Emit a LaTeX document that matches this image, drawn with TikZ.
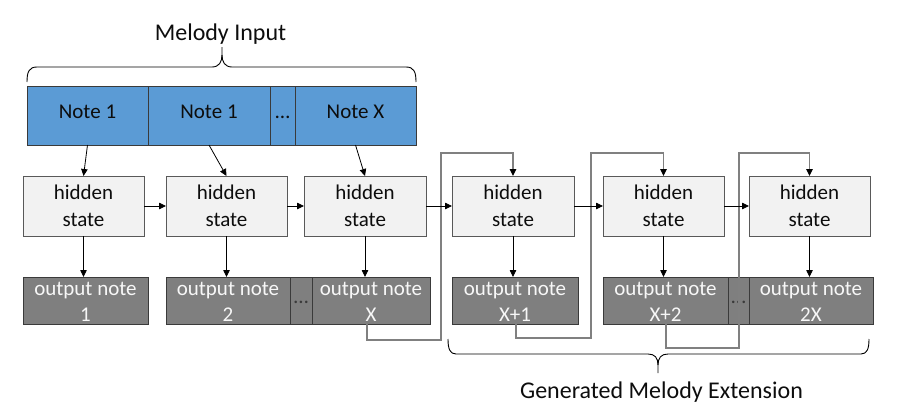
\documentclass[tikz,border=0pt]{standalone}
\usepackage{fontspec}
\setmainfont{Carlito}
\usetikzlibrary{arrows.meta,calc}
\definecolor{blueN}{HTML}{5B9BD5}
\definecolor{hidF}{HTML}{F2F2F2}
\definecolor{outF}{HTML}{7F7F7F}
\definecolor{edgeD}{HTML}{3A3A3A}
\definecolor{edgeH}{HTML}{595959}
\definecolor{fbc}{HTML}{808080}
\definecolor{txtD}{HTML}{0D0D0D}
\definecolor{txtL}{HTML}{F7F7F7}
\begin{document}
\begin{tikzpicture}[x=1pt,y=-1pt,
  box/.style={rectangle, draw=edgeD, line width=0.9pt, inner sep=0pt, outer sep=0pt},
  notebox/.style={box, fill=blueN, minimum height=59pt, font=\fontsize{21}{25}\selectfont, text=txtD, text height=0.65em, text depth=0pt},
  hidbox/.style={box, draw=edgeH, fill=hidF, minimum height=60pt},
  outbox/.style={box, fill=outF, minimum height=47pt, font=\fontsize{21}{25}\selectfont, text=edgeD, text height=0.65em, text depth=0pt},
  hlab/.style={anchor=base, inner sep=0pt, font=\fontsize{21}{25}\selectfont, text=txtD},
  olab/.style={anchor=base, inner sep=0pt, font=\fontsize{21}{25}\selectfont, text=txtL},
  title/.style={anchor=base, inner sep=0pt, font=\fontsize{24}{29}\selectfont, text=txtD},
  arr/.style={draw=black, line width=0.8pt, -{Triangle[length=7pt,width=6.5pt]}},
  fb/.style={draw=fbc, line width=1.2pt, -{Triangle[length=7pt,width=6.5pt,black]}},
  bracestyle/.style={draw=black, line width=0.9pt}
]
\useasboundingbox (0,0) rectangle (903,407);

% titles
\node[title] (mi) at (220.5,40) {Melody Input};
\node[title] (gme) at (661.5,398) {Generated Melody Extension};

% braces
\draw[bracestyle] (27,82) .. controls (27,72) and (29,67) .. (37,67) -- (212,67) .. controls (219,67) and (222,62) .. (222,55) -- (222,47);
\draw[bracestyle] (416,82) .. controls (416,72) and (414,67) .. (406,67) -- (232,67) .. controls (225,67) and (222,62) .. (222,55);
\draw[bracestyle] (448,339) .. controls (448,349) and (450,354) .. (456,354) -- (648,354) .. controls (655,354) and (658,358) .. (658,365) -- (658,373);
\draw[bracestyle] (869,339) .. controls (869,349) and (867,354) .. (861,354) -- (668,354) .. controls (661,354) and (658,358) .. (658,365);

% melody input notes
\node[notebox, minimum width=121pt] (n1) at (87.5,115.5) {Note 1};
\node[notebox, minimum width=122pt] (n2) at (209,115.5) {Note 1};
\node[notebox, minimum width=25pt] (nd) at (282.5,115.5) {…};
\node[notebox, minimum width=121pt] (nx) at (355.5,115.5) {Note X};

% hidden states
\node[hidbox, minimum width=121pt] (h1) at (83.5,206) {};
\node[hidbox, minimum width=121pt] (h2) at (226.5,206) {};
\node[hidbox, minimum width=122pt] (h3) at (365,206) {};
\node[hidbox, minimum width=122pt] (h4) at (513,206) {};
\node[hidbox, minimum width=121pt] (h5) at (663.5,206) {};
\node[hidbox, minimum width=121pt] (h6) at (809.5,206) {};
\foreach \h in {h1,h2,h3,h4,h5,h6}{
  \node[hlab] (\h a) at ($(\h.north)+(0,23)$) {hidden};
  \node[hlab] (\h b) at ($(\h.north)+(0,50)$) {state};
}

% output notes
\node[outbox, minimum width=125pt] (o1) at (85.5,300.5) {};
\node[outbox, minimum width=124pt] (o2) at (228,300.5) {};
\node[outbox, minimum width=22pt] (od1) at (301,300.5) {…};
\node[outbox, minimum width=118pt] (ox) at (371,300.5) {};
\node[outbox, minimum width=126pt] (o4) at (515,300.5) {};
\node[outbox, minimum width=125pt] (o5) at (665.5,300.5) {};
\node[outbox, minimum width=21pt] (od2) at (738.5,300.5) {…};
\node[outbox, minimum width=124pt] (o6) at (811,300.5) {};
\foreach \o/\t in {o1/1,o2/2,ox/X,o4/X+1,o5/X+2,o6/2X}{
  \node[olab] (\o a) at ($(\o.north)+(0,18)$) {output note};
  \node[olab] (\o b) at ($(\o.north)+(0,44)$) {\t};
}

% input arrows
\draw[arr] (n1.south) -- (h1.north);
\draw[arr] (n2.south) -- (h2.north);
\draw[arr] (nx.south) -- (h3.north);

% hidden to output
\draw[arr] (h1.south) -- (h1.south |- o1.north);
\draw[arr] (h2.south) -- (h2.south |- o2.north);
\draw[arr] (h3.south) -- (h3.south |- ox.north);
\draw[arr] (h4.south) -- (h4.south |- o4.north);
\draw[arr] (h5.south) -- (h5.south |- o5.north);
\draw[arr] (h6.south) -- (h6.south |- o6.north);

% feedback loops
\coordinate (f1a) at (441,340);
\coordinate (f1b) at (441,153);
\coordinate (f2a) at (591,338);
\coordinate (f2b) at (591,153);
\coordinate (f3a) at (739,348);
\coordinate (f3b) at (739,153);
\draw[fb] ($(ox.south)+(-4,0)$) |- (f1a) -- (f1b) -| (h4.north);
\draw[fb] ($(o4.south)+(1,0)$) |- (f2a) -- (f2b) -| (h5.north);
\draw[fb] ($(o5.south)+(0.5,0)$) |- (f3a) -- (f3b) -| (h6.north);

% hidden to hidden
\draw[arr] (h1.east) -- (h2.west);
\draw[arr] (h2.east) -- (h3.west);
\draw[arr] (h3.east) -- (h4.west);
\draw[arr] (h4.east) -- (h5.west);
\draw[arr] (h5.east) -- (h6.west);
\end{tikzpicture}
\end{document}
